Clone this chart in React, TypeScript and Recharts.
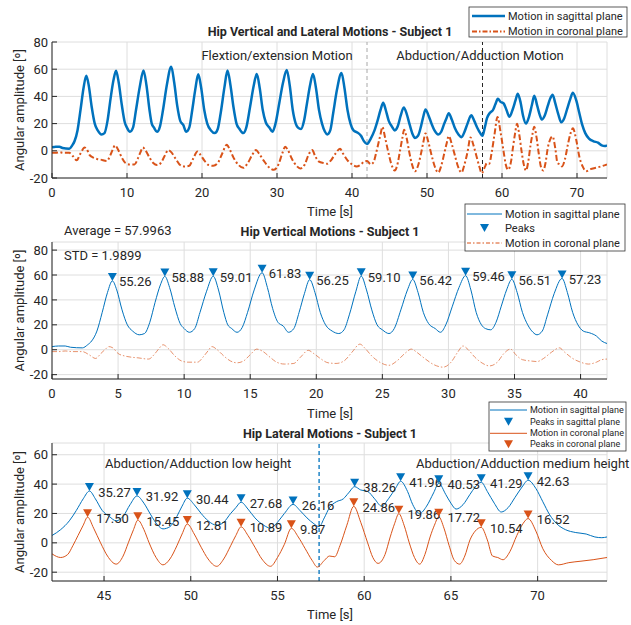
import { ComposedChart, Line, Scatter, XAxis, YAxis, CartesianGrid, ReferenceLine } from "recharts";

// hip angle traces, [time s, angle deg]
const sagittalFlex: [number, number][] = [
  [0, 2.5], [0.5, 3], [1.0, 3], [1.4, 2], [2.3, 1.5], [2.7, 4], [3.0, 7], [3.4, 15], [3.8, 30], [4.2, 46],
  [4.57, 55.26], [4.9, 48], [5.3, 32], [5.7, 20], [6.1, 15], [6.6, 12], [7.0, 13], [7.4, 22], [7.8, 38], [8.2, 52],
  [8.54, 58.88], [8.9, 50], [9.3, 34], [9.7, 21], [10.0, 17], [10.4, 14], [10.8, 17], [11.2, 30], [11.7, 47],
  [12.2, 59.01], [12.6, 48], [13.0, 30], [13.3, 20], [13.6, 17], [14.0, 14], [14.4, 18], [14.8, 30], [15.3, 48],
  [15.9, 61.83], [16.3, 50], [16.7, 33], [17.1, 22], [17.5, 19], [17.9, 14], [18.3, 17], [18.7, 30], [19.1, 45],
  [19.5, 56.25], [19.9, 46], [20.3, 30], [20.7, 20], [21.2, 15], [21.7, 13], [22.1, 16], [22.5, 28], [23.0, 47],
  [23.4, 59.1], [23.8, 48], [24.2, 32], [24.6, 20], [25.0, 16], [25.5, 13], [25.9, 17], [26.4, 32], [26.9, 48],
  [27.3, 56.42], [27.7, 46], [28.1, 30], [28.5, 21], [29.0, 17], [29.4, 14], [29.8, 20], [30.3, 35], [30.8, 50],
  [31.3, 59.46], [31.7, 48], [32.1, 30], [32.5, 20], [32.8, 17], [33.2, 16], [33.6, 22], [34.0, 35], [34.4, 48],
  [34.8, 56.51], [35.2, 46], [35.6, 30], [36.0, 20], [36.4, 14], [36.7, 12], [37.1, 15], [37.5, 28], [38.0, 45],
  [38.6, 57.23], [39.0, 46], [39.4, 30], [39.8, 20], [40.2, 15], [40.7, 13.5], [41.2, 11], [41.6, 7], [42.0, 5],
];

const sagittalAbd: [number, number][] = [
  [42.0, 5], [42.5, 9], [43.0, 15], [43.4, 22], [43.8, 30], [44.16, 35.27], [44.5, 30], [44.9, 22], [45.3, 18],
  [45.7, 15], [46.1, 18], [46.5, 26], [46.9, 31.92], [47.3, 27], [47.7, 19], [48.1, 12], [48.4, 9.5], [48.8, 11],
  [49.2, 18], [49.5, 25], [49.8, 30.44], [50.2, 26], [50.6, 20], [51.0, 15], [51.5, 12], [51.9, 14], [52.3, 20],
  [52.6, 24], [52.9, 27.68], [53.3, 23], [53.7, 17], [54.2, 12], [54.6, 10], [55.0, 14], [55.4, 20], [55.9, 26.16],
  [56.3, 22], [56.7, 17], [57.1, 13], [57.4, 11], [57.7, 17], [58.0, 24], [58.4, 28], [58.8, 30], [59.1, 34],
  [59.45, 38.26], [59.8, 36], [60.2, 35], [60.6, 30], [61.0, 25], [61.4, 30], [61.8, 37], [62.1, 41.96], [62.5, 35],
  [62.8, 26], [63.2, 20], [63.6, 25], [64.0, 34], [64.3, 40.53], [64.7, 33], [65.0, 27], [65.3, 23], [65.7, 26],
  [66.1, 33], [66.4, 38], [66.75, 41.29], [67.1, 35], [67.5, 27], [67.9, 21], [68.3, 24], [68.7, 31], [69.1, 38],
  [69.45, 42.63], [69.9, 37], [70.3, 28], [70.7, 19], [71.1, 13], [71.6, 9], [72.2, 7], [72.8, 6], [73.3, 4],
  [73.7, 3.5], [74.0, 4],
];

const coronalFlex: [number, number][] = [
  [0, -1.5], [0.5, -1.5], [1.0, -1], [1.5, -1.5], [2.3, -1.5], [2.8, -4], [3.3, -7], [3.7, -3], [4.0, 0], [4.3, 2.5],
  [4.6, 1.5], [5.0, -3], [5.5, -5], [6.0, -6], [6.5, -6.5], [7.3, -7.5], [7.8, -3], [8.1, 1], [8.4, 4], [8.8, 1],
  [9.3, -5], [9.8, -9], [10.3, -10], [11.0, -10], [11.5, -5], [11.8, -1], [12.1, 2.5], [12.5, 0], [13.0, -5],
  [13.5, -9], [14.0, -10.5], [14.5, -9], [15.0, -4], [15.5, 0.5], [15.9, -1], [16.5, -6], [17.0, -10], [17.6, -11.5],
  [18.3, -11], [18.8, -6], [19.4, -0.5], [19.8, -3], [20.3, -7], [20.9, -10.5], [21.5, -11], [22.1, -9], [22.7, -2],
  [23.3, 4.5], [23.7, 1], [24.2, -5], [24.8, -10], [25.5, -12.5], [26.1, -9], [26.7, -3], [27.2, 0.5], [27.6, -2],
  [28.2, -7], [28.9, -12], [29.6, -14], [30.2, -10], [30.7, -2], [31.1, 3], [31.5, 0], [32.0, -6], [32.6, -11],
  [33.1, -13], [33.7, -10], [34.2, -3], [34.7, 0.5], [35.1, -4], [35.6, -8], [36.2, -9], [36.7, -9.5], [37.2, -7],
  [37.8, -2], [38.4, 1.5], [38.8, -2], [39.4, -7], [40.0, -10], [40.6, -11.5], [41.2, -10], [41.6, -8], [42.0, -7.5],
];

const coronalAbd: [number, number][] = [
  [42.0, -7.5], [42.5, -10], [42.9, -8], [43.2, -2], [43.5, 5], [43.8, 12], [44.05, 17.5], [44.4, 10], [44.8, 0],
  [45.2, -9], [45.7, -14.5], [46.1, -9], [46.4, 0], [46.7, 9], [46.95, 15.45], [47.3, 9], [47.6, 0], [48.0, -10],
  [48.4, -15], [48.8, -11], [49.2, -2], [49.5, 6], [49.8, 12.81], [50.2, 6], [50.6, -3], [51.0, -11], [51.5, -16],
  [51.9, -11], [52.3, -2], [52.6, 5], [52.9, 10.89], [53.3, 5], [53.7, -3], [54.1, -11], [54.6, -16], [55.0, -10],
  [55.4, -1], [55.8, 9.87], [56.2, 4], [56.6, -4], [57.0, -12], [57.3, -16.5], [57.7, -12], [58.0, -9], [58.3, -9.5],
  [58.6, -2], [59.0, 12], [59.4, 24.86], [59.8, 14], [60.2, 0], [60.5, -10], [60.8, -14], [61.2, -8], [61.5, 4],
  [61.75, 13], [62.0, 19.86], [62.3, 12], [62.6, 0], [62.9, -10], [63.2, -14.5], [63.5, -8], [63.8, 4], [64.05, 12],
  [64.3, 17.72], [64.6, 10], [64.9, -2], [65.2, -12], [65.5, -14.5], [65.8, -9], [66.1, 2], [66.4, 8], [66.75, 10.54],
  [67.1, 2], [67.4, -9], [67.7, -10], [68.0, -11.5], [68.4, -6], [68.8, 5], [69.15, 13], [69.45, 16.52], [69.9, 8],
  [70.3, -4], [70.8, -12], [71.2, -15], [71.8, -13.5], [72.5, -12.5], [73.2, -11.5], [74.0, -10],
];

// findpeaks results
const verticalPeakTime = [4.57, 8.54, 12.2, 15.9, 19.5, 23.4, 27.3, 31.3, 34.8, 38.6];
const verticalPeakDeg = [55.26, 58.88, 59.01, 61.83, 56.25, 59.1, 56.42, 59.46, 56.51, 57.23];
const lateralSagPeakTime = [44.16, 46.9, 49.8, 52.9, 55.9, 59.45, 62.1, 64.3, 66.75, 69.45];
const lateralSagPeakDeg = [35.27, 31.92, 30.44, 27.68, 26.16, 38.26, 41.96, 40.53, 41.29, 42.63];
const lateralCorPeakTime = [44.05, 46.95, 49.8, 52.9, 55.8, 59.4, 62.0, 64.3, 66.75, 69.45];
const lateralCorPeakDeg = [17.5, 15.45, 12.81, 10.89, 9.87, 24.86, 19.86, 17.72, 10.54, 16.52];

const topTicksX = [0, 10, 20, 30, 40, 50, 60, 70];
const midTicksX = [0, 5, 10, 15, 20, 25, 30, 35, 40];
const lowTicksX = [45, 50, 55, 60, 65, 70];
const topTicksY = [-20, 0, 20, 40, 60, 80];
const lowTicksY = [-20, 0, 20, 40, 60];

const BLUE = "#0072BD";
const ORANGE = "#D95319";
const INK = "#262626";
const FONT = "Roboto, 'Liberation Sans', Arial, sans-serif";

const toRows = (pts: [number, number][]) => pts.map(([t, v]) => ({ t, v }));
const zipRows = (ts: number[], vs: number[]) => ts.map((t, i) => ({ t, v: vs[i] }));

const sagAll = toRows([...sagittalFlex, ...sagittalAbd.slice(1)]);
const corAll = toRows([...coronalFlex, ...coronalAbd.slice(1)]);

const peakShape = (color: string, dx: number) => (props: any) => {
  const { cx, cy, payload } = props;
  return (
    <g>
      <path d={`M${cx - 4.5},${cy - 8} L${cx + 4.5},${cy - 8} L${cx},${cy} Z`} fill={color} />
      <text x={cx + dx} y={cy + 1} dominantBaseline="central" fontSize={13} fill={INK} fontFamily={FONT}>
        {payload.v.toFixed(2)}
      </text>
    </g>
  );
};

const noTick = () => <g />;

// bottom/left axes with labels, top/right ones only close the box
function axes(xDomain: number[], xTicks: number[], yDomain: number[], yTicks: number[]) {
  return [
    <CartesianGrid key="g" stroke="#dedede" />,
    <XAxis key="xb" type="number" dataKey="t" domain={xDomain} ticks={xTicks} allowDataOverflow interval={0}
      height={30} axisLine={{ stroke: INK }} tickLine={{ stroke: INK }} tickSize={-5} tickMargin={15}
      tick={{ fill: INK, fontSize: 13, fontFamily: FONT }} />,
    <XAxis key="xt" xAxisId="top" orientation="top" type="number" dataKey="t" domain={xDomain} ticks={xTicks}
      allowDataOverflow interval={0} height={0} axisLine={{ stroke: INK }} tickLine={{ stroke: INK }} tickSize={-5} tick={noTick} />,
    <YAxis key="yl" type="number" domain={yDomain} ticks={yTicks} allowDataOverflow interval={0} width={44}
      axisLine={{ stroke: INK }} tickLine={{ stroke: INK }} tickSize={-5} tickMargin={9}
      tick={{ fill: INK, fontSize: 13, fontFamily: FONT }} />,
    <YAxis key="yr" yAxisId="right" orientation="right" type="number" domain={yDomain} ticks={yTicks}
      allowDataOverflow interval={0} width={0} axisLine={{ stroke: INK }} tickLine={{ stroke: INK }} tickSize={-5} tick={noTick} />,
  ];
}

const margin = (top: number) => ({ top, right: 24, bottom: 2, left: 8 });

function LegendRow({ x, y, w, label, color, dash, sw, marker, fs }: any) {
  return (
    <g>
      {marker ? (
        <path d={`M${x + w / 2 - 4.5},${y - 4} L${x + w / 2 + 4.5},${y - 4} L${x + w / 2},${y + 4} Z`} fill={color} />
      ) : (
        <line x1={x} x2={x + w} y1={y} y2={y} stroke={color} strokeWidth={sw} strokeDasharray={dash} />
      )}
      <text x={x + w + 3} y={y} dominantBaseline="central" fontSize={fs} fill={INK} fontFamily={FONT}>{label}</text>
    </g>
  );
}

export default function App() {
  const title = { fontSize: 12.5, fontWeight: 700, fill: INK, fontFamily: FONT, textAnchor: "middle" as const, dominantBaseline: "central" as const };
  const txt = { fontSize: 13, fill: INK, fontFamily: FONT, dominantBaseline: "central" as const };
  const yLabel = (cy: number) => (
    <text x={19} y={cy} transform={`rotate(-90 19 ${cy})`} textAnchor="middle" dominantBaseline="central" fontSize={13} fill={INK} fontFamily={FONT}>
      Angular amplitude [º]
    </text>
  );
  return (
    <div style={{ position: "absolute", left: 0, top: 0, width: 631, height: 625, background: "#fff" }}>
      <div style={{ position: "absolute", left: 0, top: 0 }}>
        <ComposedChart width={631} height={210} margin={margin(42)}>
          {axes([0, 74], topTicksX, [-20, 80], topTicksY)}
          <ReferenceLine x={42} stroke="#a8a8a8" strokeDasharray="4 3" />
          <ReferenceLine x={57.4} stroke={INK} strokeDasharray="4 3" />
          <Line data={sagAll} dataKey="v" type="monotoneX" stroke={BLUE} strokeWidth={2.5} dot={false} activeDot={false} isAnimationActive={false} />
          <Line data={corAll} dataKey="v" type="monotoneX" stroke={ORANGE} strokeWidth={2} strokeDasharray="6 2.5 2 2.5" dot={false} activeDot={false} isAnimationActive={false} />
        </ComposedChart>
      </div>
      <div style={{ position: "absolute", left: 0, top: 200 }}>
        <ComposedChart width={631} height={211} margin={margin(42)}>
          {axes([0, 42], midTicksX, [-23.5, 86.5], topTicksY)}
          <Line data={toRows(sagittalFlex)} dataKey="v" type="monotoneX" stroke={BLUE} strokeWidth={1} dot={false} activeDot={false} isAnimationActive={false} />
          <Line data={toRows(coronalFlex)} dataKey="v" type="monotoneX" stroke={ORANGE} strokeWidth={0.8} strokeOpacity={0.8} strokeDasharray="5 2 1.5 2" dot={false} activeDot={false} isAnimationActive={false} />
          <Scatter data={zipRows(verticalPeakTime, verticalPeakDeg)} dataKey="v" shape={peakShape(BLUE, 6.6)} isAnimationActive={false} />
        </ComposedChart>
      </div>
      <div style={{ position: "absolute", left: 0, top: 400 }}>
        <ComposedChart width={631} height={213} margin={margin(43)}>
          {axes([42, 74], lowTicksX, [-26, 68], lowTicksY)}
          <ReferenceLine x={57.4} stroke={BLUE} strokeWidth={1.3} strokeDasharray="4 3" />
          <Line data={toRows(sagittalAbd)} dataKey="v" type="monotoneX" stroke={BLUE} strokeWidth={1} dot={false} activeDot={false} isAnimationActive={false} />
          <Line data={toRows(coronalAbd)} dataKey="v" type="monotoneX" stroke={ORANGE} strokeWidth={1} dot={false} activeDot={false} isAnimationActive={false} />
          <Scatter data={zipRows(lateralSagPeakTime, lateralSagPeakDeg)} dataKey="v" shape={peakShape(BLUE, 8.7)} isAnimationActive={false} />
          <Scatter data={zipRows(lateralCorPeakTime, lateralCorPeakDeg)} dataKey="v" shape={peakShape(ORANGE, 8.7)} isAnimationActive={false} />
        </ComposedChart>
      </div>
      <svg width={631} height={625} style={{ position: "absolute", left: 0, top: 0, pointerEvents: "none" }}>
        <text x={330} y={31} {...title}>Hip Vertical and Lateral Motions - Subject 1</text>
        <text x={277} y={55} {...txt} textAnchor="middle">Flextion/extension Motion</text>
        <text x={480} y={55} {...txt} textAnchor="middle">Abduction/Adduction Motion</text>
        <text x={330} y={211} {...txt} textAnchor="middle">Time [s]</text>
        {yLabel(110)}
        <rect x={469} y={7} width={158} height={30} fill="#fff" stroke="#333" strokeWidth={0.8} />
        <LegendRow x={472} y={16} w={33} label="Motion in sagittal plane" color={BLUE} sw={2.5} fs={11} />
        <LegendRow x={472} y={31.5} w={33} label="Motion in coronal plane" color={ORANGE} sw={2} dash="5 2 1.5 2" fs={11} />

        <text x={330} y={231} {...title}>Hip Vertical Motions - Subject 1</text>
        <text x={64} y={230} {...txt}>Average = 57.9963</text>
        <text x={64} y={255} {...txt}>STD = 1.9899</text>
        <text x={330} y={413} {...txt} textAnchor="middle">Time [s]</text>
        {yLabel(310.5)}
        <rect x={465} y={204} width={160} height={47} fill="#fff" stroke="#333" strokeWidth={0.8} />
        <LegendRow x={467} y={214} w={35} label="Motion in sagittal plane" color={BLUE} sw={1} fs={11} />
        <LegendRow x={467} y={228} w={35} label="Peaks" color={BLUE} marker fs={11} />
        <LegendRow x={467} y={243} w={35} label="Motion in coronal plane" color={ORANGE} sw={1} dash="4 2 1.5 2" fs={11} />

        <text x={330} y={433} {...title}>Hip Lateral Motions - Subject 1</text>
        <text x={105} y={463} {...txt}>Abduction/Adduction low height</text>
        <text x={416} y={463} {...txt}>Abduction/Adduction medium height</text>
        <text x={330} y={614} {...txt} textAnchor="middle">Time [s]</text>
        {yLabel(512)}
        <rect x={489} y={402} width={137} height={49} fill="#fff" stroke="#333" strokeWidth={0.8} />
        <LegendRow x={490} y={410} w={37} label="Motion in sagittal plane" color={BLUE} sw={1} fs={9} />
        <LegendRow x={490} y={421.7} w={37} label="Peaks in sagittal plane" color={BLUE} marker fs={9} />
        <LegendRow x={490} y={433.3} w={37} label="Motion in coronal plane" color={ORANGE} sw={1} fs={9} />
        <LegendRow x={490} y={444.3} w={37} label="Peaks in coronal plane" color={ORANGE} marker fs={9} />
      </svg>
    </div>
  );
}
